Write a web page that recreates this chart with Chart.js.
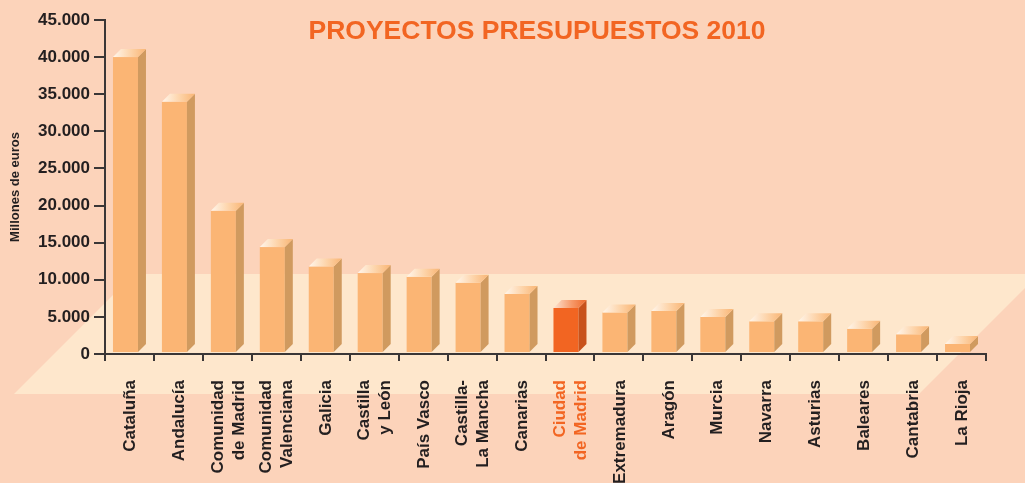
<!DOCTYPE html>
<html>
<head>
<meta charset="utf-8">
<script src="https://cdn.jsdelivr.net/npm/chart.js@4"></script>
<style>
  html, body { margin: 0; padding: 0; background: #FCD3BA; }
  #wrap { width: 1025px; height: 483px; position: relative; }
</style>
</head>
<body>
<div id="wrap"><canvas id="c"></canvas></div>
<script>
// ---- data ----
const categories = [
  'Cataluña', 'Andalucía', ['Comunidad', 'de Madrid'], ['Comunidad', 'Valenciana'],
  'Galicia', ['Castilla', 'y León'], 'País Vasco', ['Castilla-', 'La Mancha'],
  'Canarias', ['Ciudad', 'de Madrid'], 'Extremadura', 'Aragón', 'Murcia',
  'Navarra', 'Asturias', 'Baleares', 'Cantabria', 'La Rioja'
];
const presupuesto = [
  40000, 34000, 19300, 14400, 11800, 10900, 10400, 9600, 8100,
  6200, 5600, 5800, 5000, 4400, 4400, 3400, 2650, 1350
];
const highlightIndex = [9];
const yTicks = [0, 5000, 10000, 15000, 20000, 25000, 30000, 35000, 40000, 45000];
const titleText = 'PROYECTOS PRESUPUESTOS 2010';
const yTitle = 'Millones de euros';

// ---- styles ----
const BG = '#FCD3BA';
const FLOOR = '#FEE7CC';
const FACE = '#FBB574';
const SIDE = '#D09A5F';
const HFACE = '#F26522';
const HSIDE = '#C8521B';
const TEXT = '#231F20';
const AXIS = '#3A3636';
const FONT = '"Liberation Sans", Arial, Helvetica, sans-serif';

function fmt(v) {
  return String(v).replace(/\B(?=(\d{3})+(?!\d))/g, '.');
}

const backgroundPlugin = {
  id: 'bgFloor',
  beforeDraw(chart) {
    const ctx = chart.ctx;
    const a = chart.chartArea;
    ctx.save();
    ctx.fillStyle = BG;
    ctx.fillRect(0, 0, chart.width, chart.height);
    const top = a.bottom - 80;
    const bot = a.bottom + 40;
    const depth = bot - top;
    ctx.fillStyle = FLOOR;
    ctx.beginPath();
    ctx.moveTo(a.left + 29, top);
    ctx.lineTo(a.left + 29 + 905, top);
    ctx.lineTo(a.left + 29 + 905 - depth, bot);
    ctx.lineTo(a.left + 29 - depth, bot);
    ctx.closePath();
    ctx.fill();
    ctx.restore();
  }
};

const bar3dPlugin = {
  id: 'bar3d',
  afterDatasetsDraw(chart) {
    const ctx = chart.ctx;
    const meta = chart.getDatasetMeta(0);
    ctx.save();
    meta.data.forEach((el, i) => {
      const w = el.width;
      const front = w * 25 / 33;
      const d = w * 8 / 33;
      const x0 = el.x - w / 2;
      const x1 = x0 + front;
      const yTop = el.y;
      const yBase = el.base - 1;
      const hi = highlightIndex.includes(i);
      ctx.fillStyle = hi ? HFACE : FACE;
      ctx.fillRect(x0, yTop, front, yBase - yTop);
      ctx.fillStyle = hi ? HSIDE : SIDE;
      ctx.beginPath();
      ctx.moveTo(x1, yTop);
      ctx.lineTo(x1 + d, yTop - d);
      ctx.lineTo(x1 + d, yBase - d);
      ctx.lineTo(x1, yBase);
      ctx.closePath();
      ctx.fill();
      const g = ctx.createLinearGradient(x0, 0, x1 + d, 0);
      if (hi) {
        g.addColorStop(0, '#FDE3D2');
        g.addColorStop(0.55, '#F79A6A');
        g.addColorStop(1, '#EE6A2C');
      } else {
        g.addColorStop(0, '#FFF6EC');
        g.addColorStop(0.55, '#FDD3A8');
        g.addColorStop(1, '#F9B574');
      }
      ctx.fillStyle = g;
      ctx.beginPath();
      ctx.moveTo(x0, yTop);
      ctx.lineTo(x1, yTop);
      ctx.lineTo(x1 + d, yTop - d);
      ctx.lineTo(x0 + d, yTop - d);
      ctx.closePath();
      ctx.fill();
    });
    ctx.restore();
  }
};

// x-axis category labels, rotated, centred on each category
const xLabelPlugin = {
  id: 'xLabels',
  afterDraw(chart) {
    const ctx = chart.ctx;
    const xs = chart.scales.x;
    const fs = 17, lh = 21;
    const yAnchor = xs.top + 26;
    ctx.save();
    ctx.font = 'bold ' + fs + 'px ' + FONT;
    ctx.textAlign = 'right';
    ctx.textBaseline = 'middle';
    categories.forEach((lab, i) => {
      const lines = Array.isArray(lab) ? lab : [lab];
      const px = xs.getPixelForValue(i);
      ctx.fillStyle = highlightIndex.includes(i) ? '#F26522' : TEXT;
      lines.forEach((ln, j) => {
        const x = px + (j - (lines.length - 1) / 2) * lh;
        ctx.save();
        ctx.translate(x, yAnchor);
        ctx.rotate(-Math.PI / 2);
        ctx.fillText(ln, 0, 1);
        ctx.restore();
      });
    });
    ctx.restore();
  }
};

const titlePlugin = {
  id: 'mainTitle',
  afterDraw(chart) {
    const ctx = chart.ctx;
    ctx.save();
    ctx.font = 'bold 26.5px ' + FONT;
    ctx.fillStyle = '#F26522';
    ctx.textAlign = 'center';
    ctx.textBaseline = 'alphabetic';
    ctx.fillText(titleText, 537, 39);
    ctx.restore();
  }
};

new Chart(document.getElementById('c'), {
  type: 'bar',
  data: {
    labels: categories,
    datasets: [{
      data: presupuesto,
      backgroundColor: 'rgba(0,0,0,0)',
      borderWidth: 0,
      barThickness: 33
    }]
  },
  options: {
    responsive: true,
    maintainAspectRatio: false,
    animation: false,
    events: [],
    layout: { padding: { top: 20, right: 39, left: 0, bottom: 0 } },
    plugins: { legend: { display: false }, tooltip: { enabled: false }, title: { display: false } },
    scales: {
      x: {
        afterFit(scale) { scale.height = 129; },
        grid: {
          offset: true,
          drawOnChartArea: false,
          drawTicks: true,
          tickLength: 7,
          color: AXIS,
          lineWidth: 2
        },
        border: { display: true, color: AXIS, width: 2 },
        ticks: { display: false, autoSkip: false }
      },
      y: {
        min: yTicks[0],
        max: yTicks[yTicks.length - 1],
        afterFit(scale) { scale.width = 105; },
        afterBuildTicks(scale) { scale.ticks = yTicks.map(v => ({ value: v })); },
        grid: {
          drawOnChartArea: false,
          drawTicks: true,
          tickLength: 11,
          color: AXIS,
          lineWidth: 2
        },
        border: { display: true, color: AXIS, width: 2 },
        ticks: {
          padding: 4,
          font: { family: FONT, size: 17, weight: 'bold' },
          color: TEXT,
          callback: (v) => fmt(v)
        },
        title: {
          display: true,
          text: yTitle,
          color: TEXT,
          font: { family: FONT, size: 13, weight: 'bold' },
          padding: { top: 8, bottom: 0 }
        }
      }
    }
  },
  plugins: [backgroundPlugin, bar3dPlugin, xLabelPlugin, titlePlugin]
});
</script>
</body>
</html>
